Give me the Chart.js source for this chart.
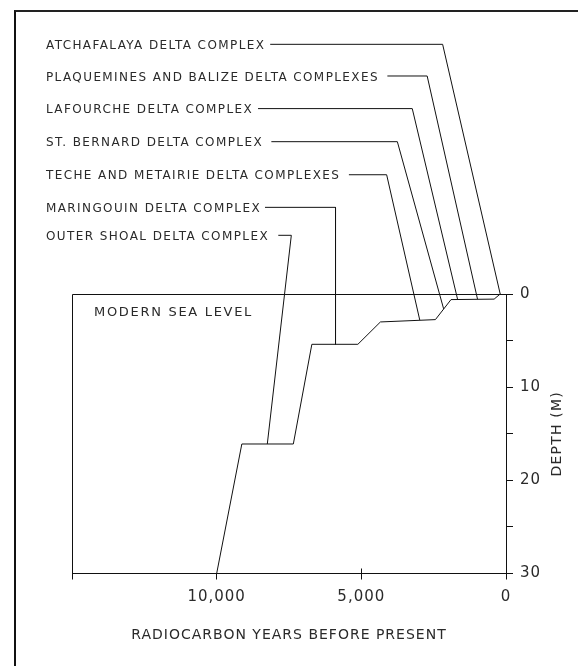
<!DOCTYPE html>
<html lang="en">
<head>
    <meta charset="UTF-8">
    <title>Sea level curve - Mississippi delta complexes</title>
    <script src="https://cdn.jsdelivr.net/npm/chart.js"></script>
    <style>
        body {
            margin: 0;
            background: #fff;
            width: 578px;
            height: 666px;
            overflow: hidden;
            position: relative;
        }
        .frame {
            position: absolute;
            left: 14px;
            top: 10px;
            border-left: 2px solid #111;
            border-top: 2px solid #222;
        }
        canvas { display: block; }
    </style>
</head>
<body>
    <div class="frame">
        <canvas id="seaLevelChart" width="562" height="654"></canvas>
    </div>

    <script>
        // sea level curve (radiocarbon years BP, depth in m)
        const curveYears = [10000, 9130, 7350, 6710, 5120, 4340, 2440, 1900, 410, 200];
        const curveDepth = [30, 16.1, 16.1, 5.4, 5.4, 3.0, 2.75, 0.6, 0.55, 0];

        // delta complex labels, top to bottom, and their leader lines
        const deltaNames = [
            'ATCHAFALAYA DELTA COMPLEX',
            'PLAQUEMINES AND BALIZE DELTA COMPLEXES',
            'LAFOURCHE DELTA COMPLEX',
            'ST. BERNARD DELTA COMPLEX',
            'TECHE AND METAIRIE DELTA COMPLEXES',
            'MARINGOUIN DELTA COMPLEX',
            'OUTER SHOAL DELTA COMPLEX'
        ];
        const labelRowDepth = [-26.8, -23.4, -19.9, -16.35, -12.8, -9.3, -6.3];
        const leaderStartYears = [8150, 4100, 8570, 8110, 5430, 8330, 7870];
        const leaderCornerYears = [2190, 2725, 3240, 3755, 4125, 5892, 7420];
        const leaderEndYears = [200, 985, 1675, 2155, 2980, 5892, 8250];
        const leaderEndDepth = [0, 0.55, 0.55, 1.6, 2.8, 5.4, 16.1];

        // axes
        const yearTicks = [0, 5000, 10000, 15000];
        const yearTickLabels = ['0', '5,000', '10,000', ''];
        const depthTicks = [0, 5, 10, 15, 20, 25, 30];
        const depthTickLabels = ['0', '', '10', '', '20', '', '30'];

        const labelYear = 15900;
        const seaLevelNote = { text: 'MODERN SEA LEVEL', year: 14240, depth: 2.0 };

        const ink = '#111';
        const textInk = '#2a2a2a';
        const fontFamily = "'DejaVu Sans', sans-serif";

        const datasets = [{
            label: 'Sea level',
            data: curveYears.map((yr, i) => ({ x: yr, y: curveDepth[i] })),
            borderColor: ink,
            borderWidth: 1,
            pointRadius: 0,
            tension: 0,
            clip: false
        }];
        deltaNames.forEach((name, i) => {
            datasets.push({
                label: name,
                data: [
                    { x: leaderStartYears[i], y: labelRowDepth[i] },
                    { x: leaderCornerYears[i], y: labelRowDepth[i] },
                    { x: leaderEndYears[i], y: leaderEndDepth[i] }
                ],
                borderColor: ink,
                borderWidth: 1,
                pointRadius: 0,
                tension: 0,
                clip: false
            });
        });

        const annotate = {
            id: 'annotate',
            beforeDraw(chart) {
                chart.ctx.letterSpacing = '1px';
            },
            afterDatasetsDraw(chart) {
                const { ctx, chartArea: a, scales: { x, y } } = chart;
                ctx.save();
                // top (sea level) and left edges of the plot box
                ctx.strokeStyle = ink;
                ctx.lineWidth = 1;
                ctx.beginPath();
                ctx.moveTo(a.left + 0.5, a.bottom);
                ctx.lineTo(a.left + 0.5, a.top + 0.5);
                ctx.lineTo(a.right, a.top + 0.5);
                ctx.stroke();
                // small mark above the axis at 5,000
                const x5 = Math.round(x.getPixelForValue(yearTicks[1])) + 0.5;
                ctx.beginPath();
                ctx.moveTo(x5, a.bottom);
                ctx.lineTo(x5, a.bottom - 5);
                ctx.stroke();

                ctx.fillStyle = textInk;
                ctx.textAlign = 'left';
                ctx.textBaseline = 'middle';
                ctx.font = '12px ' + fontFamily;
                ctx.letterSpacing = '1.4px';
                deltaNames.forEach((name, i) => {
                    ctx.fillText(name, x.getPixelForValue(labelYear), y.getPixelForValue(labelRowDepth[i]) + 1.5);
                });

                ctx.font = '13px ' + fontFamily;
                ctx.letterSpacing = '1.7px';
                ctx.fillText(seaLevelNote.text, x.getPixelForValue(seaLevelNote.year), y.getPixelForValue(seaLevelNote.depth));

                // right axis title, reading upwards
                ctx.font = '14px ' + fontFamily;
                ctx.letterSpacing = '1.2px';
                ctx.translate(a.right + 51, (a.top + a.bottom) / 2);
                ctx.rotate(-Math.PI / 2);
                ctx.textAlign = 'center';
                ctx.fillText('DEPTH (M)', 0, 0);
                ctx.restore();
            }
        };

        const ctx = document.getElementById('seaLevelChart').getContext('2d');
        new Chart(ctx, {
            type: 'line',
            data: { datasets: datasets },
            options: {
                responsive: false,
                animation: false,
                events: [],
                layout: { padding: { left: 56, top: 282, right: 0, bottom: 0 } },
                plugins: {
                    legend: { display: false },
                    tooltip: { enabled: false }
                },
                scales: {
                    x: {
                        type: 'linear',
                        position: 'bottom',
                        reverse: true,
                        min: 0,
                        max: 15000,
                        afterBuildTicks: s => { s.ticks = yearTicks.map(v => ({ value: v })); },
                        afterFit: s => { s.height = 92.5; },
                        ticks: {
                            autoSkip: false,
                            maxRotation: 0,
                            padding: 9,
                            color: textInk,
                            font: { family: fontFamily, size: 15 },
                            callback: (v, i) => yearTickLabels[i]
                        },
                        grid: {
                            drawOnChartArea: false,
                            drawTicks: true,
                            tickLength: 6,
                            color: ink
                        },
                        border: { display: true, color: ink, width: 1 },
                        title: {
                            display: true,
                            text: 'RADIOCARBON YEARS BEFORE PRESENT',
                            color: textInk,
                            font: { family: fontFamily, size: 14 },
                            padding: { top: 0, bottom: 22 }
                        }
                    },
                    y: {
                        type: 'linear',
                        position: 'right',
                        reverse: true,
                        min: 0,
                        max: 30,
                        afterBuildTicks: s => { s.ticks = depthTicks.map(v => ({ value: v })); },
                        afterFit: s => { s.width = 72; },
                        ticks: {
                            autoSkip: false,
                            padding: 7,
                            color: textInk,
                            font: { family: fontFamily, size: 15 },
                            callback: (v, i) => depthTickLabels[i]
                        },
                        grid: {
                            drawOnChartArea: false,
                            drawTicks: true,
                            tickLength: 7,
                            color: ink
                        },
                        border: { display: true, color: ink, width: 1 }
                    }
                }
            },
            plugins: [annotate]
        });
    </script>
</body>
</html>
